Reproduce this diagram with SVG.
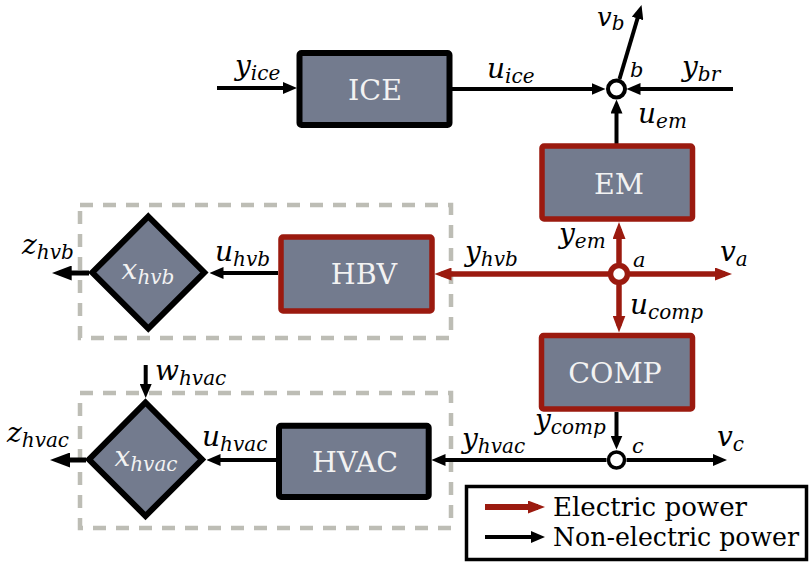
<svg xmlns="http://www.w3.org/2000/svg" width="810" height="564" viewBox="0 0 810 564">
<style>
.box{fill:#737b8e;stroke-width:5.5;stroke-linejoin:round}
.blk{stroke:#000}
.red{stroke:#9b1a0f}
.lbl{font-size:28.5px;fill:#f2f2f2;font-family:"DejaVu Serif",serif}
.m{font-style:italic;font-size:28px;fill:#000;font-family:"DejaVu Serif",serif}
.s{font-size:20px}
.n{font-size:21px}
.w{fill:#f2f2f2}
.cb{fill:none;stroke:#000;stroke-width:4}
.cbb{fill:none;stroke:#000;stroke-width:5}
.cr{fill:none;stroke:#9b1a0f;stroke-width:5.5}
.dash{fill:none;stroke:#bdbdb5;stroke-width:4.5;stroke-dasharray:13 10}
.node{fill:#fff}
.leg{font-size:25.5px;fill:#000;font-family:"DejaVu Serif",serif}
</style>
<defs>
<marker id="ak" markerUnits="userSpaceOnUse" viewBox="0 0 14 12" markerWidth="14" markerHeight="12" refX="8" refY="6" orient="auto"><path d="M0,0 L14,6 L0,12 Z" fill="#000"/></marker>
<marker id="akb" markerUnits="userSpaceOnUse" viewBox="0 0 20 15" markerWidth="20" markerHeight="15" refX="12" refY="7.5" orient="auto"><path d="M0,0 L20,7.5 L0,15 Z" fill="#000"/></marker>
<marker id="ar" markerUnits="userSpaceOnUse" viewBox="0 0 17 13" markerWidth="17" markerHeight="13" refX="10" refY="6.5" orient="auto"><path d="M0,0 L17,6.5 L0,13 Z" fill="#9b1a0f"/></marker>
</defs>

<g id="groups">
<rect class="dash" x="80" y="205" width="371" height="133"/>
<rect class="dash" x="80" y="393" width="371" height="135"/>
</g>

<g id="connectors">
<line class="cb" x1="217" y1="88" x2="291" y2="88" marker-end="url(#ak)"/>
<line class="cb" x1="452" y1="89" x2="599.5" y2="89" marker-end="url(#ak)"/>
<line class="cb" x1="733" y1="89" x2="632.5" y2="89" marker-end="url(#ak)"/>
<line class="cb" x1="616.5" y1="146" x2="616.5" y2="105.5" marker-end="url(#ak)"/>
<line class="cb" x1="619.5" y1="79" x2="639.8" y2="10.8" marker-end="url(#ak)"/>
<line class="cr" x1="619" y1="263" x2="619" y2="229" marker-end="url(#ar)"/>
<line class="cr" x1="608" y1="274" x2="441.5" y2="274" marker-end="url(#ar)"/>
<line class="cr" x1="630" y1="274" x2="725" y2="274" marker-end="url(#ar)"/>
<line class="cr" x1="619" y1="285" x2="619" y2="325.5" marker-end="url(#ar)"/>
<line class="cb" x1="616.5" y1="412" x2="616.5" y2="443.5" marker-end="url(#ak)"/>
<line class="cb" x1="626.5" y1="460" x2="721" y2="460" marker-end="url(#ak)"/>
<line class="cb" x1="606.5" y1="460" x2="437.5" y2="460" marker-end="url(#ak)"/>
<line class="cb" x1="276" y1="460" x2="212.5" y2="460" marker-end="url(#ak)"/>
<line class="cbb" x1="86" y1="460" x2="58" y2="460" marker-end="url(#akb)"/>
<line class="cb" x1="145.7" y1="365" x2="145.7" y2="392" marker-end="url(#ak)"/>
<line class="cb" x1="278" y1="273" x2="215.5" y2="273" marker-end="url(#ak)"/>
<line class="cbb" x1="89" y1="273" x2="59.7" y2="273" marker-end="url(#akb)"/>
</g>

<g id="ICE">
<rect class="box blk" x="299.5" y="53" width="150" height="72" rx="2" style="stroke-width:6"/>
<text class="lbl" x="375" y="99.5" text-anchor="middle">ICE</text>
</g>
<g id="EM">
<rect class="box red" x="542" y="146" width="150.5" height="73" rx="2"/>
<text class="lbl" x="619" y="193.5" text-anchor="middle">EM</text>
</g>
<g id="HBV">
<rect class="box red" x="281" y="237" width="151" height="74" rx="2"/>
<text class="lbl" x="364" y="284" text-anchor="middle">HBV</text>
</g>
<g id="COMP">
<rect class="box red" x="541.5" y="335.5" width="151" height="73.5" rx="2"/>
<text class="lbl" x="615" y="382.5" text-anchor="middle">COMP</text>
</g>
<g id="HVAC">
<rect class="box blk" x="279" y="425.7" width="149.7" height="71.3" rx="2" style="stroke-width:6"/>
<text class="lbl" x="355" y="472" text-anchor="middle">HVAC</text>
</g>
<g id="x_hvb">
<polygon class="box blk" points="148.3,216.5 204.3,272.5 148.3,328.5 92.3,272.5" style="stroke-width:6;stroke-linejoin:miter"/>
<text class="m w" x="148" y="279" text-anchor="middle">x<tspan class="s" dy="5">hvb</tspan></text>
</g>
<g id="x_hvac">
<polygon class="box blk" points="145.5,402.5 202,459.5 145.5,516 89,459.5" style="stroke-width:6;stroke-linejoin:miter"/>
<text class="m w" x="146" y="466" text-anchor="middle">x<tspan class="s" dy="5">hvac</tspan></text>
</g>
<g id="node_b">
<circle class="node blk" cx="616.5" cy="89" r="8.5" style="stroke-width:4"/>
<text class="m n" x="630" y="77">b</text>
</g>
<g id="node_a">
<circle class="node red" cx="619" cy="274" r="8.5" style="stroke-width:5.5"/>
<text class="m n" x="633" y="267">a</text>
</g>
<g id="node_c">
<circle class="node blk" cx="616.5" cy="460" r="8" style="stroke-width:3.5"/>
<text class="m n" x="632" y="453">c</text>
</g>

<g id="labels">
<text class="m" x="235" y="75">y<tspan class="s" dy="5">ice</tspan></text>
<text class="m" x="487" y="78">u<tspan class="s" dy="5">ice</tspan></text>
<text class="m" x="682" y="76">y<tspan class="s" dy="5">br</tspan></text>
<text class="m" x="597" y="26" style="font-size:26px">v<tspan class="s" dy="4">b</tspan></text>
<text class="m" x="638" y="123">u<tspan class="s" dy="5">em</tspan></text>
<text class="m" x="559" y="243">y<tspan class="s" dy="5">em</tspan></text>
<text class="m" x="465" y="261">y<tspan class="s" dy="5">hvb</tspan></text>
<text class="m" x="720" y="261">v<tspan class="s" dy="5">a</tspan></text>
<text class="m" x="630" y="314">u<tspan class="s" dy="5">comp</tspan></text>
<text class="m" x="215" y="261">u<tspan class="s" dy="5">hvb</tspan></text>
<text class="m" x="22" y="254">z<tspan class="s" dy="5">hvb</tspan></text>
<text class="m" x="535" y="429">y<tspan class="s" dy="5">comp</tspan></text>
<text class="m" x="717" y="446">v<tspan class="s" dy="5">c</tspan></text>
<text class="m" x="462" y="448">y<tspan class="s" dy="5">hvac</tspan></text>
<text class="m" x="155" y="380">w<tspan class="s" dy="5">hvac</tspan></text>
<text class="m" x="202" y="446">u<tspan class="s" dy="5">hvac</tspan></text>
<text class="m" x="7" y="442">z<tspan class="s" dy="5">hvac</tspan></text>
</g>

<g id="legend">
<rect x="466.5" y="486.5" width="340" height="73" fill="#fff" stroke="#000" stroke-width="3.5"/>
<line x1="485" y1="507" x2="538" y2="507" stroke="#9b1a0f" stroke-width="6" marker-end="url(#ar)"/>
<line x1="485" y1="537" x2="539" y2="537" stroke="#000" stroke-width="4" marker-end="url(#ak)"/>
<text class="leg" x="553" y="516" textLength="194" lengthAdjust="spacingAndGlyphs">Electric power</text>
<text class="leg" x="553" y="546" textLength="246" lengthAdjust="spacingAndGlyphs">Non-electric power</text>
</g>
</svg>
